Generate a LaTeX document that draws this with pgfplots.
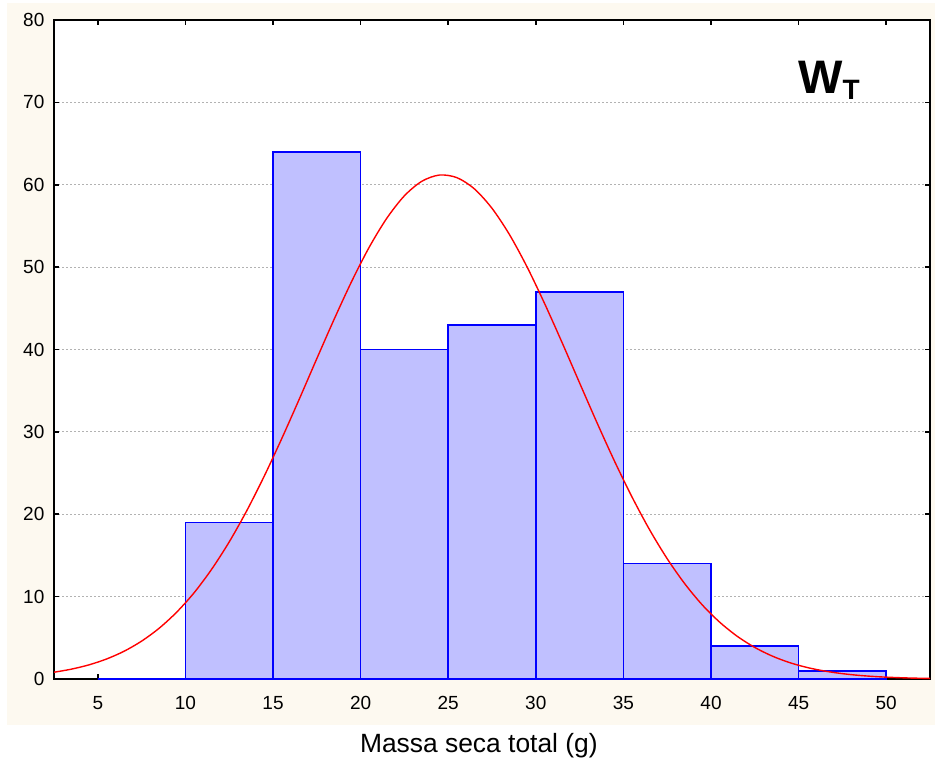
\documentclass[border=0pt]{standalone}
\usepackage{fontspec}
\setmainfont{Liberation Sans}
\usepackage{pgfplots}
\pgfplotsset{compat=1.18}
\usetikzlibrary{backgrounds}
\definecolor{cream}{RGB}{253,249,240}
\definecolor{barfill}{RGB}{192,192,255}
\begin{document}
\begin{tikzpicture}
\path[use as bounding box] (-27pt,-40.5pt) rectangle (440.5pt,339.5pt);
\begin{axis}[
  name=ax, at={(0,0)}, anchor=south west,
  scale only axis, width=438pt, height=329.5pt,
  xmin=2.5, xmax=52.5, ymin=0, ymax=80,
  xtick={5,10,...,50}, ytick={0,10,...,80},
  tick pos=both, tick align=inside, major tick length=2.5pt,
  ymajorgrids,
  major grid style={black!30, dash pattern=on 1pt off 1pt, line width=0.4pt},
  axis line style={line width=0.8pt},
  every tick/.style={black, line width=0.8pt},
  ticklabel style={font=\fontsize{9.5}{11}\selectfont},
  yticklabel style={xshift=-1.3pt},
  xticklabel style={yshift=-5pt},
  /pgf/number format/assume math mode=true,
  axis background/.style={fill=white},
  xlabel={Massa seca total (g)},
  xlabel style={font=\fontsize{13.2}{15}\selectfont, at={(axis description cs:0.485,0)}, anchor=base, yshift=-36.5pt, inner sep=0pt},
]
\addplot[ybar interval, fill=barfill, draw=blue, line width=0.75pt] coordinates {
(5,0) (10,19) (15,64) (20,40) (25,43) (30,47) (35,14) (40,4) (45,1) (50,1)
};
\addplot[red, line width=0.7pt, smooth] coordinates {
(2.5,0.82) (3.5,1.20) (4.5,1.72) (5.5,2.43) (6.5,3.37) (7.5,4.60) (8.5,6.16) (9.5,8.11)
(10.5,10.48) (11.5,13.33) (12.5,16.64) (13.5,20.42) (14.5,24.63) (15.5,29.19) (16.5,33.98)
(17.5,38.89) (18.5,43.72) (19.5,48.31) (20.5,52.45) (21.5,55.95) (22.5,58.66) (23.5,60.43)
(24.5,61.18) (25.5,60.86) (26.5,59.49) (27.5,57.14) (28.5,53.94) (29.5,50.03) (30.5,45.59)
(31.5,40.84) (32.5,35.94) (33.5,31.08) (34.5,26.41) (35.5,22.06) (36.5,18.10) (37.5,14.60)
(38.5,11.57) (39.5,9.00) (40.5,6.89) (41.5,5.18) (42.5,3.83) (43.5,2.78) (44.5,1.98)
(45.5,1.39) (46.5,0.96) (47.5,0.65) (48.5,0.43) (49.5,0.28) (50.5,0.18) (51.5,0.11) (52.5,0.07)
};
\node[anchor=base west, inner sep=0pt] at (axis cs:44.96,71.1)
  {\fontsize{23.5}{28}\selectfont\bfseries W\fontsize{14}{16}\selectfont\raisebox{-3.2pt}{T}};
\end{axis}
\begin{scope}[on background layer]
\fill[cream] (-23.5pt,-23pt) rectangle (440.5pt,338pt);
\end{scope}
\end{tikzpicture}
\end{document}
